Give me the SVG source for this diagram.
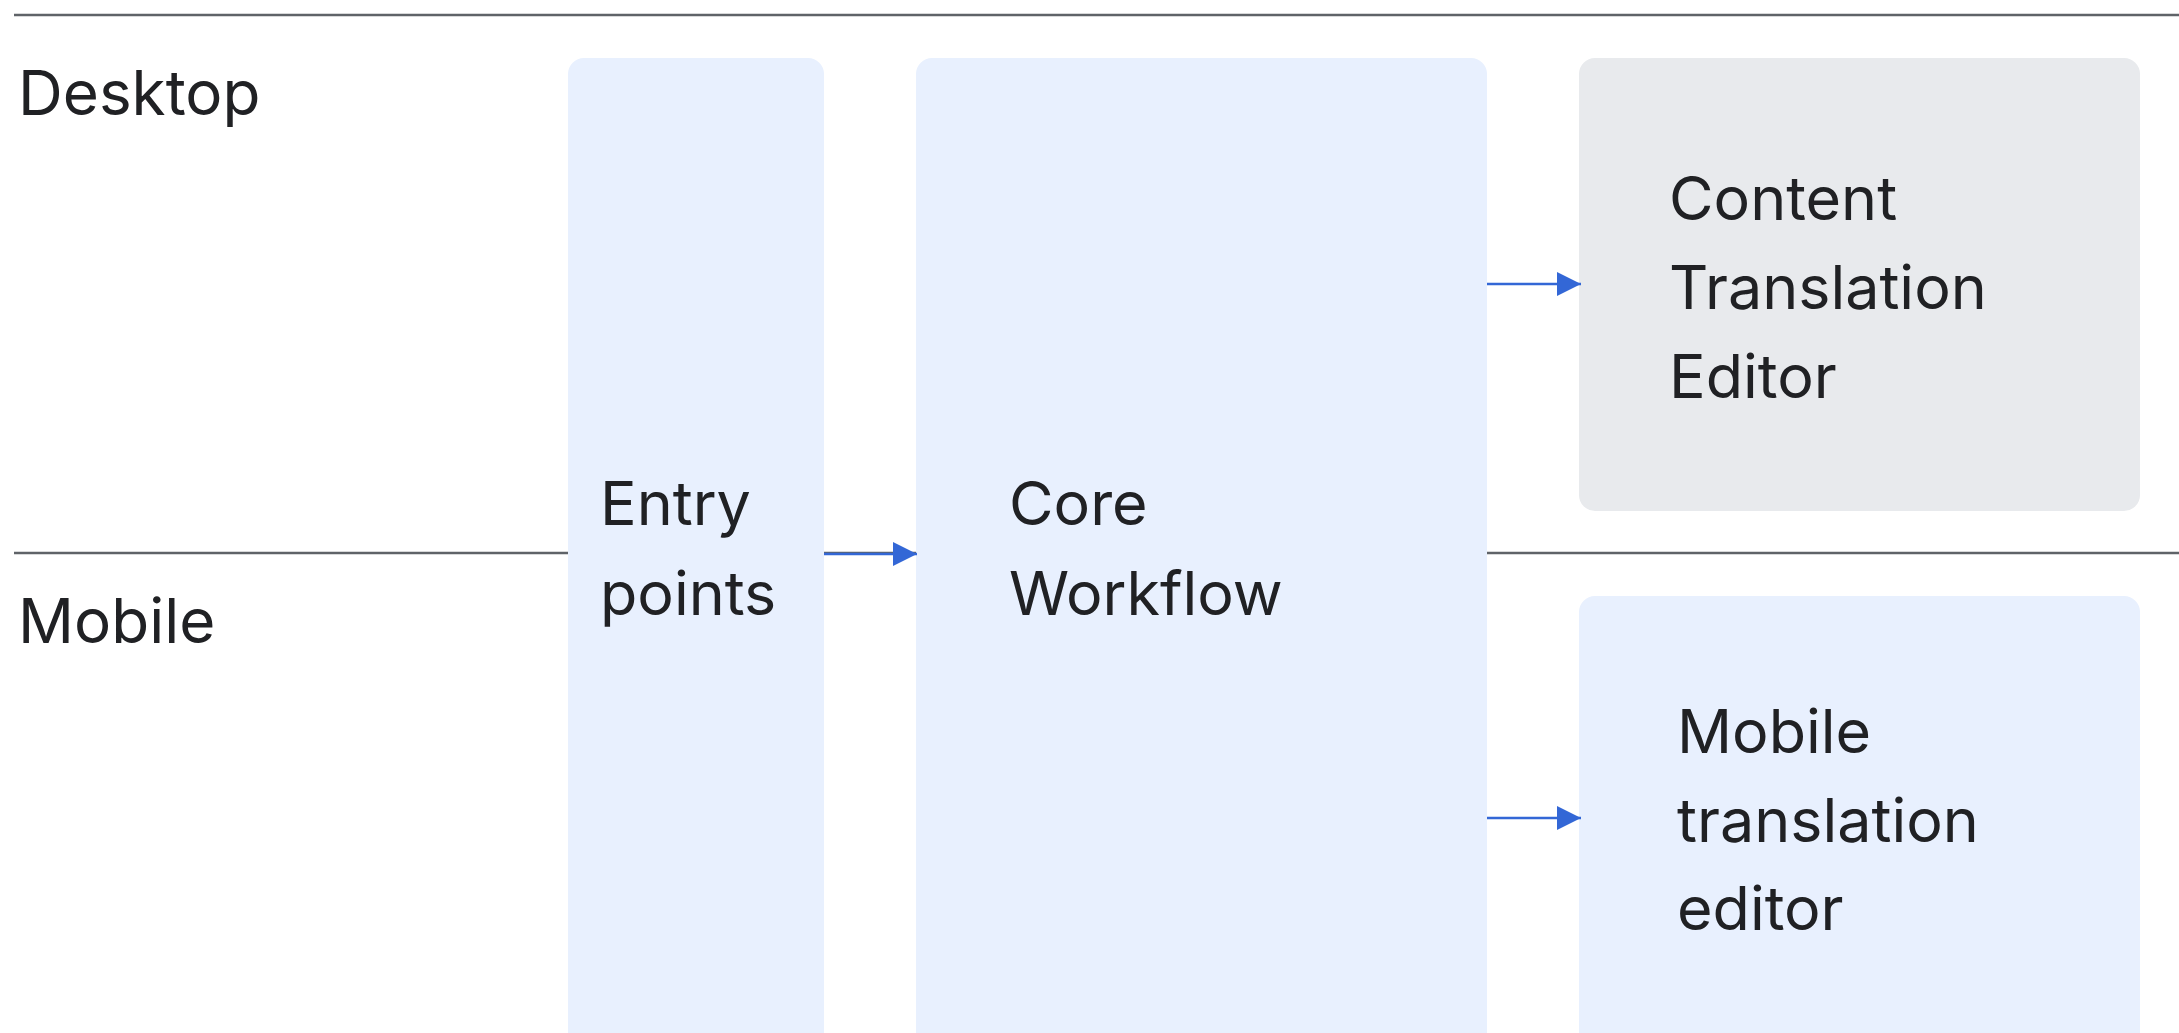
<svg xmlns="http://www.w3.org/2000/svg" width="2179" height="1033" viewBox="0 0 2179 1033">
  <style>
    .lane-line { stroke: #5f6368; stroke-width: 2.5; fill: none; }
    .lane-label { font-family: Inter, "Noto Sans", "Liberation Sans", sans-serif; font-size: 62px; fill: #202124; }
    .box { fill: #e8f0fe; }
    .box-grey { fill: #e8eaed; }
    .label { font-family: Inter, "Noto Sans", "Liberation Sans", sans-serif; font-size: 61px; fill: #202124; }
    .edge { stroke: #3367d6; stroke-width: 2.5; fill: none; marker-end: url(#arrow); }
  </style>
  <defs>
    <marker id="arrow" markerUnits="userSpaceOnUse" markerWidth="24" markerHeight="24" refX="24" refY="12" orient="auto">
      <path d="M0,0 L24,12 L0,24 Z" fill="#3367d6"/>
    </marker>
  </defs>
  <rect width="2179" height="1033" fill="#ffffff"/>

  <!-- swimlane separators and titles -->
  <g id="lanes">
    <line class="lane-line" x1="14" y1="15" x2="2179" y2="15"/>
    <line class="lane-line" x1="14" y1="553" x2="2179" y2="553"/>
    <text class="lane-label" x="18" y="115">Desktop</text>
    <text class="lane-label" x="18" y="643">Mobile</text>
  </g>

  <g id="entry-points">
    <rect class="box" x="568" y="58" width="256" height="990" rx="16"/>
    <text class="label" x="600" y="525">Entry</text>
    <text class="label" x="600" y="615">points</text>
  </g>

  <g id="core-workflow">
    <rect class="box" x="916" y="58" width="571" height="990" rx="16"/>
    <text class="label" x="1009" y="525">Core</text>
    <text class="label" x="1009" y="615">Workflow</text>
  </g>

  <g id="content-translation-editor">
    <rect class="box-grey" x="1579" y="58" width="561" height="453" rx="16"/>
    <text class="label" x="1669" y="220">Content</text>
    <text class="label" x="1669" y="309">Translation</text>
    <text class="label" x="1669" y="398">Editor</text>
  </g>

  <g id="mobile-translation-editor">
    <rect class="box" x="1579" y="596" width="561" height="452" rx="16"/>
    <text class="label" x="1677" y="753">Mobile</text>
    <text class="label" x="1677" y="842">translation</text>
    <text class="label" x="1677" y="930">editor</text>
  </g>

  <g id="connectors">
    <line class="edge" x1="824" y1="554" x2="917" y2="554"/>
    <line class="edge" x1="1487" y1="284" x2="1581" y2="284"/>
    <line class="edge" x1="1487" y1="818" x2="1581" y2="818"/>
  </g>
</svg>
